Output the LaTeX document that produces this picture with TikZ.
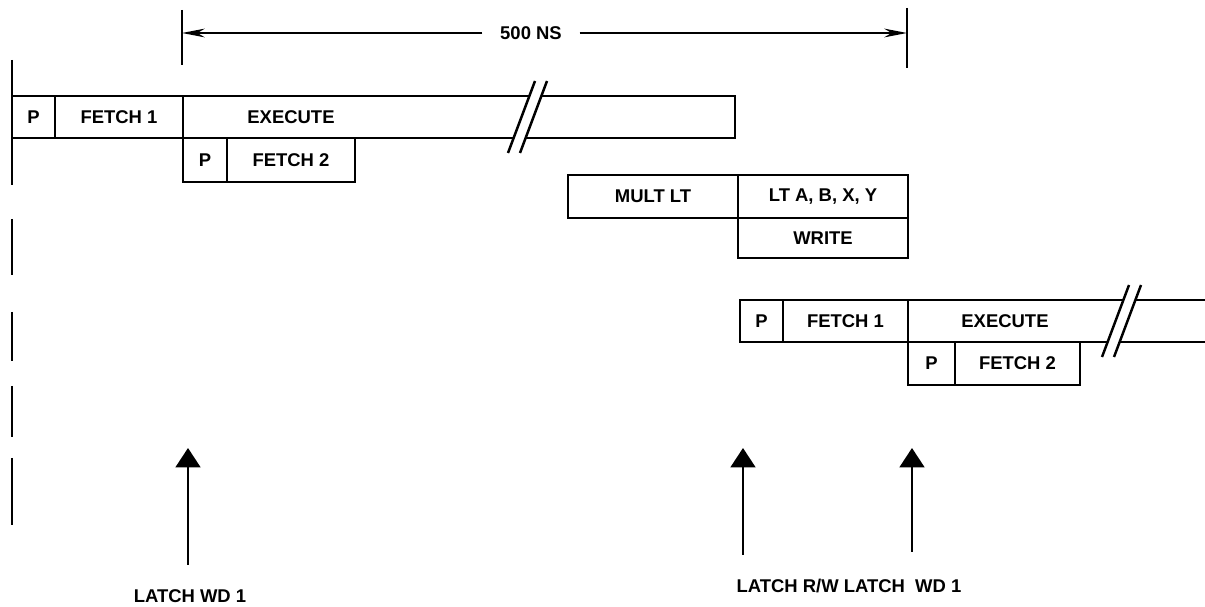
\documentclass[tikz,border=0pt]{standalone}
\usepackage{fontspec}
\setmainfont{Liberation Sans}
\usepackage{tikz}
\usetikzlibrary{arrows.meta,positioning}

\newcommand{\pu}{0.02cm}
\newcommand{\lblfont}{\fontsize{10.5}{12}\selectfont\bfseries}
% break mark over a bar, centred at #1
\newcommand{\breakmark}[1]{%
  \begin{scope}[shift={#1}]
    \fill[white] (-19,36) -- (8,-36) -- (20,-36) -- (-7,36) -- cycle;
    \draw[edge] (-19,36) -- (8,-36);
    \draw[edge] (-7,36) -- (20,-36);
  \end{scope}}

\begin{document}
\begin{tikzpicture}[x=0.02cm, y=-0.02cm,
    box/.style={draw, line width=1.4pt, inner sep=0pt, outer sep=0pt,
      minimum height=42*\pu, font=\lblfont},
    edge/.style={line width=1.4pt},
    dim/.style={line width=0.8pt, -{Stealth[length=13pt,width=5pt]}},
    latch/.style={line width=1.6pt, -{Triangle[length=11pt,width=14pt]}}]
    \useasboundingbox (0,0) rectangle (1205,607);

    % 500 ns span
    \coordinate (tl) at (182,33);
    \coordinate (tr) at (907,33);
    \draw[edge] (182,10) -- (182,65);
    \draw[edge] (907,8) -- (907,68);
    \node[font=\lblfont, inner xsep=10pt] (ns) at (531,33) {500 NS};
    \draw[dim] (ns) -- (tl);
    \draw[dim] (ns) -- (tr);

    % left time mark
    \foreach \a/\b in {60/185, 219/275, 312/361, 386/437, 458/525}
        \draw[edge] (12,\a) -- (12,\b);

    % first instruction
    \node[box, anchor=north west, minimum width=43*\pu] (p1) at (12,96) {P};
    \node[box, right=0pt of p1, minimum width=128*\pu] (f1) {FETCH 1};
    \node[box, right=0pt of f1, minimum width=552*\pu] (ex1) {};
    \node[font=\lblfont] (ex1t) at (291,117) {EXECUTE};
    \breakmark{(527,117)}
    \node[box, anchor=north west, minimum width=44*\pu, minimum height=44*\pu] (p2) at (f1.south east) {P};
    \node[box, right=0pt of p2, minimum width=128*\pu, minimum height=44*\pu] (f2) {FETCH 2};

    % multiply
    \node[box, anchor=north west, minimum width=170*\pu, minimum height=43*\pu] (mlt) at (568,175) {MULT LT};
    \node[box, right=0pt of mlt, minimum width=170*\pu, minimum height=43*\pu] (lt) {LT A, B, X, Y};
    \node[box, below=0pt of lt, minimum width=170*\pu, minimum height=40*\pu] (wr) {WRITE};

    % next instruction
    \node[box, anchor=north west, minimum width=43*\pu] (p3) at (740,300) {P};
    \node[box, right=0pt of p3, minimum width=125*\pu] (f3) {FETCH 1};
    \draw[edge] (f3.north east) -- (1205,300) (f3.south east) -- (1205,342);
    \node[font=\lblfont] (ex2t) at (1005,321) {EXECUTE};
    \breakmark{(1121,321)}
    \node[box, anchor=north west, minimum width=47*\pu, minimum height=43*\pu] (p4) at (f3.south east) {P};
    \node[box, right=0pt of p4, minimum width=125*\pu, minimum height=43*\pu] (f4) {FETCH 2};

    % latch strobes
    \foreach \n/\x/\t in {a/188/565, b/743/555, c/912/552} {
        \coordinate (tail\n) at (\x,\t);
        \coordinate (tip\n) at (\x,448);
        \draw[latch] (tail\n) -- (tip\n);
    }
    \node[font=\lblfont] (lw1) at (190,596) {LATCH WD 1};
    \node[font=\lblfont] (lrw) at (849,586) {LATCH R/W LATCH\ \ WD 1};
\end{tikzpicture}
\end{document}
